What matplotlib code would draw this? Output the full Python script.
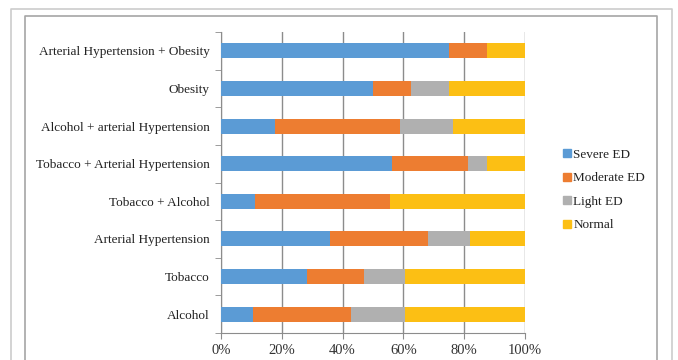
import matplotlib.pyplot as plt
from matplotlib.lines import Line2D
from matplotlib.ticker import FixedLocator, PercentFormatter

# Risk factor groups, listed bottom to top
categories = ['Alcohol', 'Tobacco', 'Arterial Hypertension', 'Tobacco + Alcohol',
              'Tobacco + Arterial Hypertension', 'Alcohol + arterial Hypertension',
              'Obesity', 'Arterial Hypertension + Obesity']

# Share of patients (%) in each erectile dysfunction grade
severe = [10.6, 28.3, 36.0, 11.1, 56.25, 17.6, 50.0, 75.0]
moderate = [32.2, 18.9, 32.0, 44.4, 25.0, 41.2, 12.5, 12.5]
light = [17.7, 13.2, 14.0, 0.0, 6.25, 17.6, 12.5, 0.0]
normal = [39.5, 39.6, 18.0, 44.5, 12.5, 23.6, 25.0, 12.5]

series = [('Severe ED', severe, '#5b9bd5'),
          ('Moderate ED', moderate, '#ed7d31'),
          ('Light ED', light, '#b0b0b0'),
          ('Normal', normal, '#fcbf14')]

plt.rcParams['font.family'] = ['Liberation Serif', 'DejaVu Serif']

fig = plt.figure(figsize=(6.78, 3.6), dpi=100)
ax = fig.add_axes([221 / 678, 1 - 333 / 360, 304 / 678, 301 / 360])

ypos = list(range(len(categories)))
left = [0.0] * len(categories)
for name, vals, color in series:
    ax.barh(ypos, vals, left=left, height=0.4, color=color, label=name, zorder=3)
    left = [a + b for a, b in zip(left, vals)]

ax.set_xlim(0, 100)
ax.set_ylim(-0.5, len(categories) - 0.5)
ax.set_xticks([0, 20, 40, 60, 80, 100])
ax.xaxis.set_major_formatter(PercentFormatter(decimals=0))
ax.set_yticks(ypos)
ax.set_yticklabels(categories)
ax.yaxis.set_minor_locator(FixedLocator([i - 0.5 for i in range(len(categories) + 1)]))

ax.grid(axis='x', color='#8c8c8c', linewidth=1, zorder=0)
for s in ['top', 'right']:
    ax.spines[s].set_visible(False)
for s in ['left', 'bottom']:
    ax.spines[s].set_color('#8c8c8c')
ax.tick_params(axis='y', which='major', length=0, pad=8, labelsize=9.5, labelcolor='#222222')
ax.tick_params(axis='y', which='minor', length=4, color='#8c8c8c')
ax.tick_params(axis='x', length=4, color='#8c8c8c', labelsize=10.5, labelcolor='#333333', pad=4)

# Legend squares on the right
handles = [Line2D([], [], marker='s', linestyle='none', markersize=6,
                  markerfacecolor=c, markeredgecolor=c, label=n) for n, _, c in series]
fig.legend(handles=handles, loc='center left', bbox_to_anchor=(556 / 678, 1 - 190 / 360),
           frameon=False, fontsize=9.5, handletextpad=0.1, labelspacing=0.85,
           borderaxespad=0, handlelength=0.8, labelcolor='#222222')

# Double frame around the chart
outer = dict(color='#cccccc', linewidth=1.2)
inner = dict(color='#a6a6a6', linewidth=1.2)
fig.add_artist(Line2D([11 / 678, 11 / 678, 672 / 678, 672 / 678], [0, 1 - 9 / 360, 1 - 9 / 360, 0],
                      transform=fig.transFigure, **outer))
fig.add_artist(Line2D([25 / 678, 25 / 678, 657 / 678, 657 / 678], [0, 1 - 16 / 360, 1 - 16 / 360, 0],
                      transform=fig.transFigure, **inner))

fig.savefig('out.png', dpi=100)
